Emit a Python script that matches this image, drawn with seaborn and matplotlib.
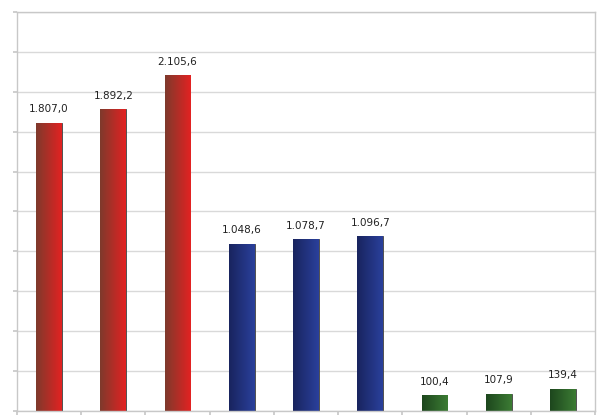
import numpy as np
import pandas as pd
import matplotlib
matplotlib.use("Agg")
import matplotlib.pyplot as plt
from matplotlib.colors import LinearSegmentedColormap
import seaborn as sns

categories = ["A1", "A2", "A3", "B1", "B2", "B3", "C1", "C2", "C3"]
groups = ["red", "red", "red", "blue", "blue", "blue", "green", "green", "green"]
values = [1807.0, 1892.2, 2105.6, 1048.6, 1078.7, 1096.7, 100.4, 107.9, 139.4]
value_labels = ["1.807,0", "1.892,2", "2.105,6", "1.048,6", "1.078,7", "1.096,7",
                "100,4", "107,9", "139,4"]

gradients = {
    "red": ("#7e3a2c", "#e32222"),
    "blue": ("#19245e", "#2a409c"),
    "green": ("#1d461d", "#3c7c34"),
}

df = pd.DataFrame({"cat": categories, "val": values, "grp": groups})

sns.set_theme(style="white")
plt.rcParams["font.family"] = ["DejaVu Sans"]

fig = plt.figure(figsize=(6.01, 4.18), dpi=100)
ax = fig.add_axes([17 / 601, 7 / 418, 578 / 601, 399 / 418])

sns.barplot(data=df, x="cat", y="val", ax=ax, width=0.4, color="white",
            edgecolor="#333333", linewidth=0.6)

ax.set_xlim(-0.5, len(categories) - 0.5)
ax.set_ylim(0, 2500)
ax.set_yticks(np.arange(0, 2501, 250))
ax.set_yticklabels([])
ax.set_xticks(np.arange(-0.5, len(categories), 1.0))
ax.set_xticklabels([])
ax.set_xlabel("")
ax.set_ylabel("")
ax.grid(axis="y", color="#d9d9d9", linewidth=1.0)
ax.set_axisbelow(True)
for s in ax.spines.values():
    s.set_color("#c8c8c8")
    s.set_linewidth(1.0)
ax.tick_params(axis="both", which="both", length=3, color="#c8c8c8",
               direction="out", bottom=True, left=True)

grad = np.linspace(0, 1, 256).reshape(1, -1)
for patch, grp in zip(ax.patches, groups):
    x0, y0 = patch.get_x(), patch.get_y()
    w, h = patch.get_width(), patch.get_height()
    cmap = LinearSegmentedColormap.from_list(grp, list(gradients[grp]))
    im = ax.imshow(grad, extent=[x0, x0 + w, y0, y0 + h], aspect="auto",
                   cmap=cmap, zorder=patch.get_zorder() + 0.1)
    im.set_clip_path(patch)
    patch.set_zorder(patch.get_zorder())

for patch, lab in zip(ax.patches, value_labels):
    ax.annotate(lab, (patch.get_x() + patch.get_width() / 2, patch.get_height()),
                xytext=(0, 6), textcoords="offset points", ha="center", va="bottom",
                fontsize=7.5, color="#222222")

ax.set_xlim(-0.5, len(categories) - 0.5)
ax.set_ylim(0, 2500)

fig.savefig("out.png", dpi=100)
